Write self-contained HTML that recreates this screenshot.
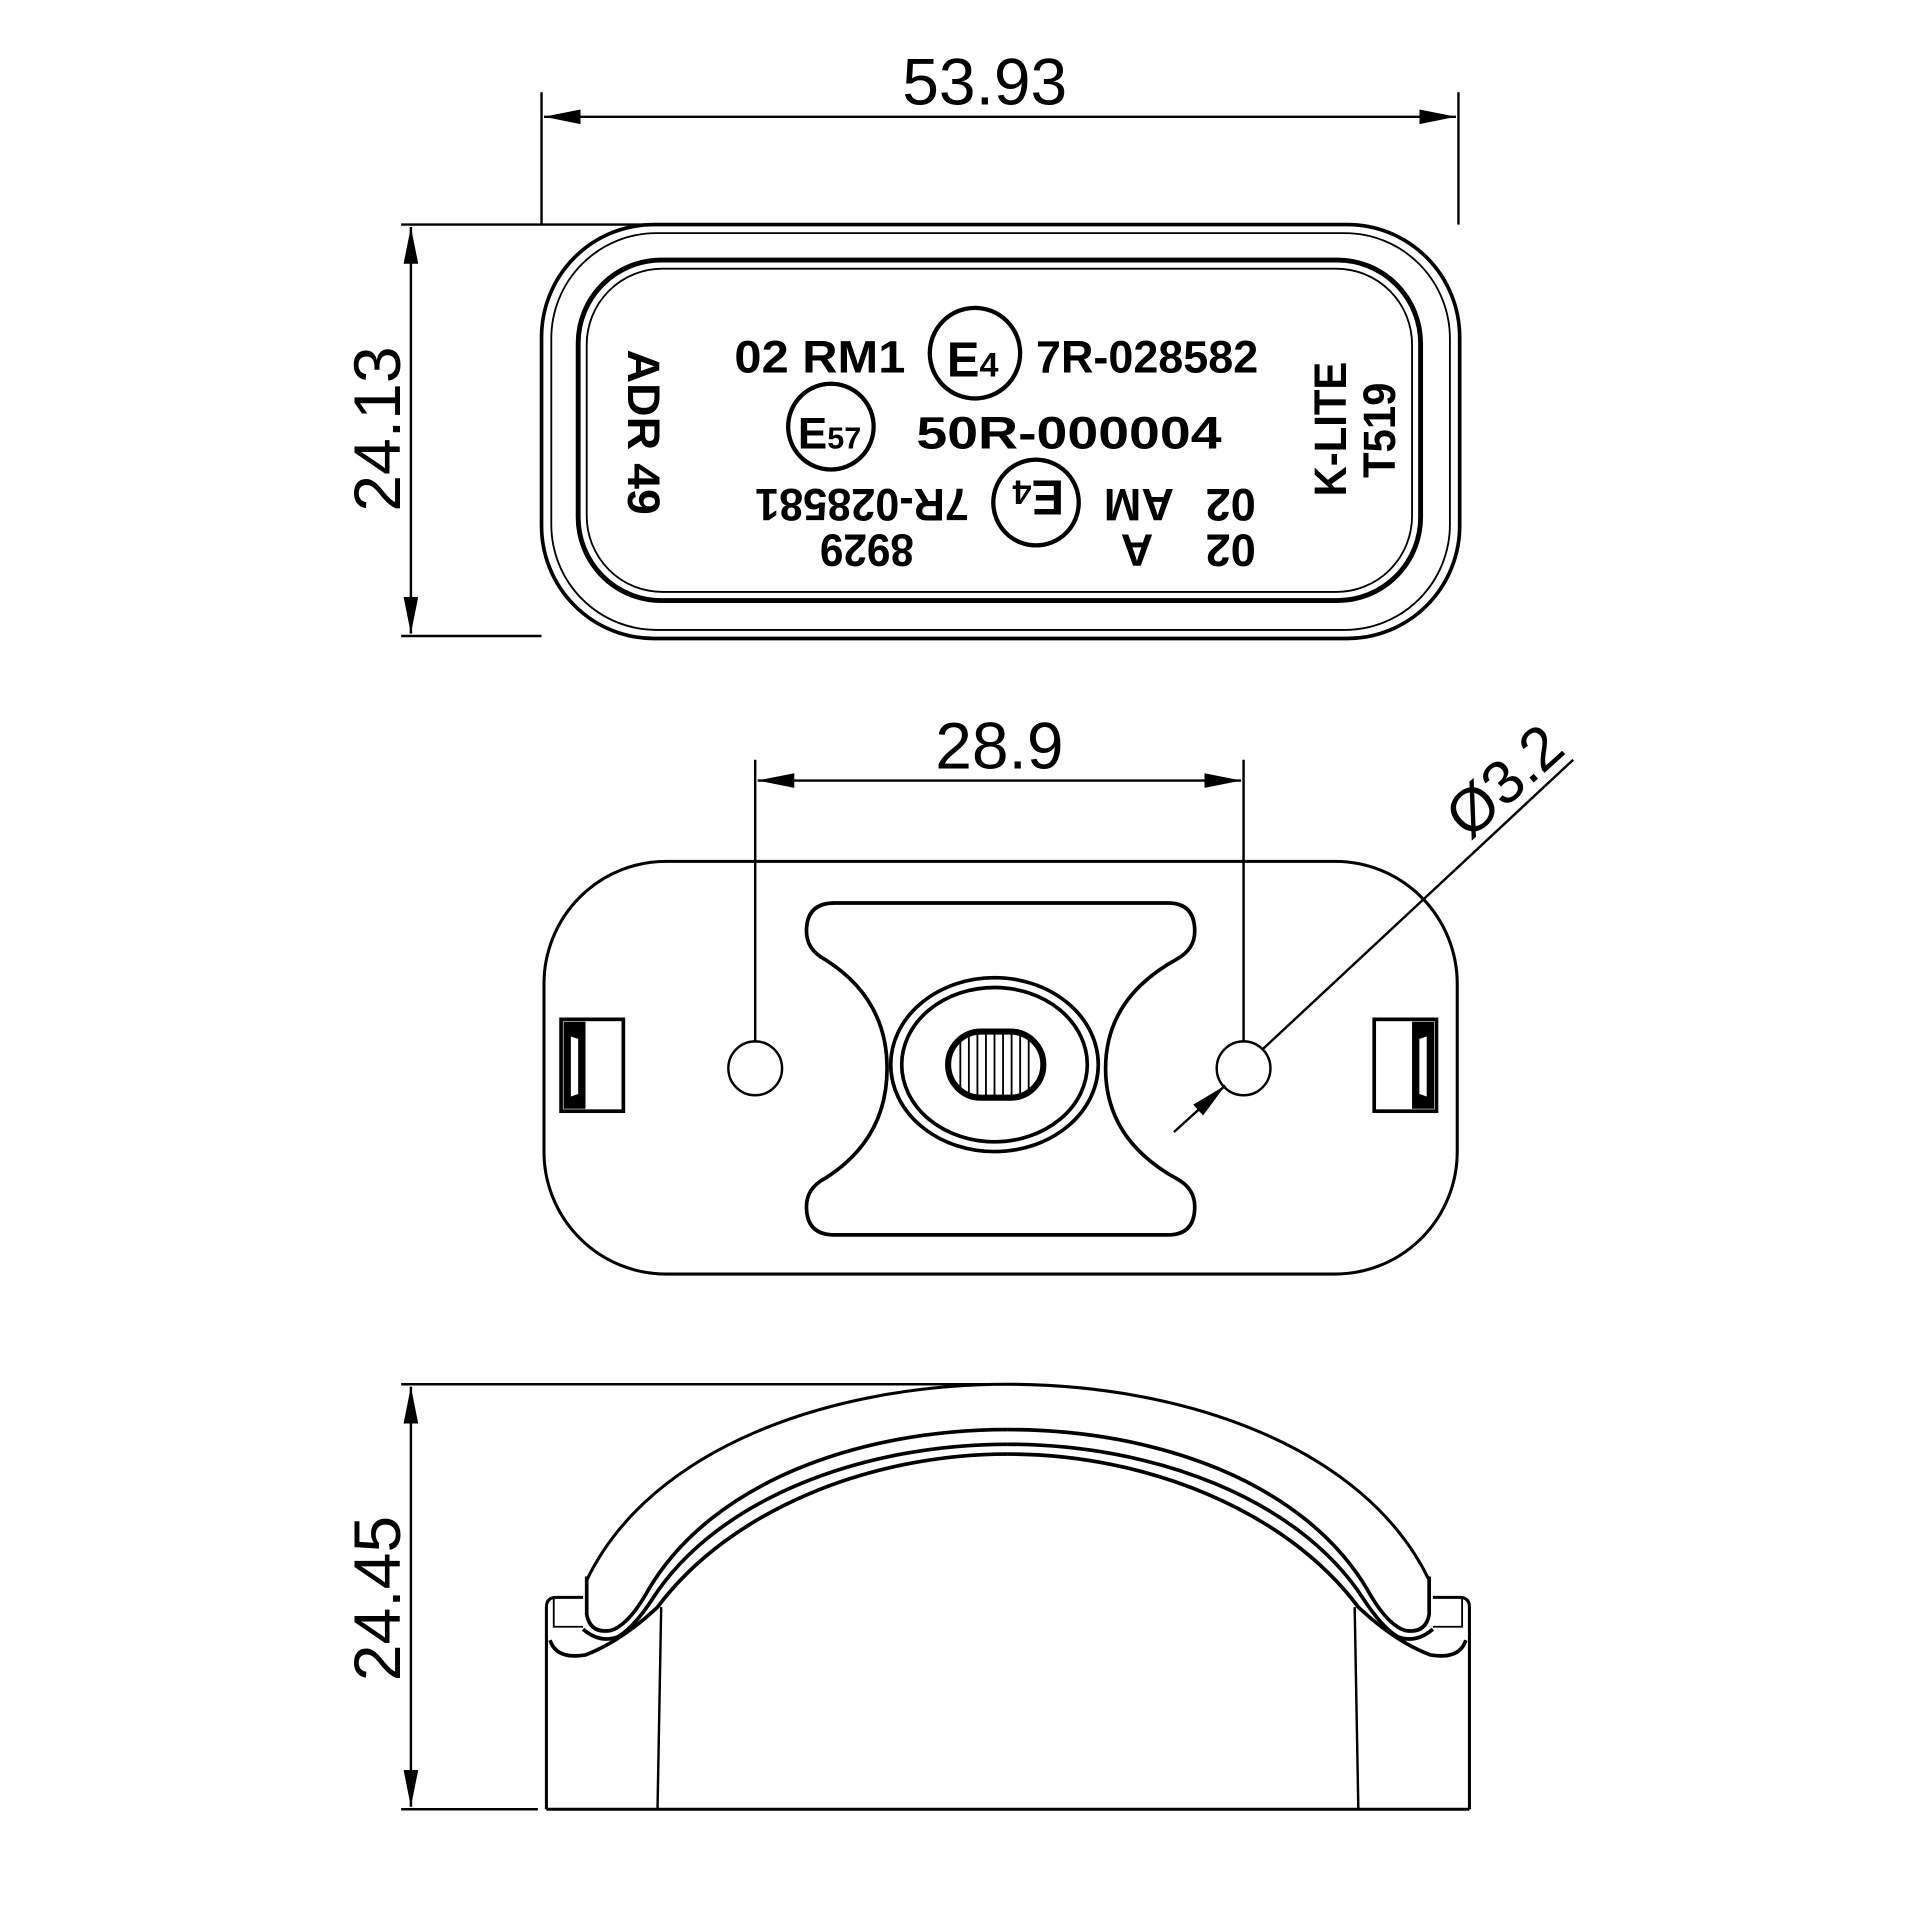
<!DOCTYPE html>
<html><head><meta charset="utf-8"><style>html,body{margin:0;padding:0;background:#fff}svg{display:block}</style></head>
<body>
<svg width="1920" height="1920" viewBox="0 0 1560 1560" xmlns="http://www.w3.org/2000/svg">
<defs>
<marker id="ar" viewBox="0 0 20 8" refX="20" refY="4" markerWidth="30" markerHeight="12" markerUnits="userSpaceOnUse" orient="auto-start-reverse"><path d="M0,0 L20,4 L0,8 Z" fill="#000"/></marker>
<g id="half">
<path d="M477,1290 C530,1180 680,1130 822,1130" stroke-width="2.5"/>
<path d="M477,1287 V1318 Q480,1334 497,1331 Q512,1326 528,1297 C580,1210 700,1167 822,1167" stroke-width="3"/>
<path d="M474,1330 Q488,1342 503,1336 Q516,1328 531,1305 C585,1222 705,1179 822,1179" stroke-width="3"/>
<path d="M447,1339 Q452,1355 476,1351 Q505,1340 535,1312 C595,1232 710,1187 822,1187" stroke-width="3"/>
<path d="M444,1477 V1312 Q444,1304 452,1304 H474" stroke-width="2.5"/>
<path d="M450,1304 V1328 H474" stroke-width="1.5"/>
<line x1="538" y1="1312" x2="535" y2="1477"/>
</g>
</defs>
<g transform="translate(440,75) scale(0.992,0.995) translate(-440,-75)">
<g fill="none" stroke="#000" stroke-width="2">
<line x1="440" y1="75" x2="440" y2="183"/><line x1="1191" y1="75" x2="1191" y2="183"/>
<line x1="442" y1="95" x2="1189" y2="95" marker-start="url(#ar)" marker-end="url(#ar)"/>
<line x1="325" y1="183" x2="530" y2="183"/><line x1="325" y1="519" x2="440" y2="519"/>
<line x1="333" y1="185" x2="333" y2="517" marker-start="url(#ar)" marker-end="url(#ar)"/>
<rect x="440" y="183" width="752" height="338" rx="92" stroke-width="3"/>
<rect x="448" y="190" width="736" height="324" rx="86" stroke-width="1.5"/>
<rect x="470" y="212" width="690" height="278" rx="68" stroke-width="4"/>
<rect x="477" y="219" width="676" height="264" rx="62" stroke-width="1.5"/>
<circle cx="795" cy="288" r="37" stroke-width="3.5"/>
<circle cx="677" cy="348" r="35" stroke-width="3.5"/>
<circle cx="845" cy="410" r="35" stroke-width="3.5"/>
<rect x="442" y="703" width="748" height="337" rx="100" stroke-width="2.5"/>
<line x1="615" y1="620" x2="615" y2="850"/><line x1="1015" y1="620" x2="1015" y2="850"/>
<line x1="617" y1="637" x2="1013" y2="637" marker-start="url(#ar)" marker-end="url(#ar)"/>
<circle cx="615" cy="872" r="22"/><circle cx="1015" cy="872" r="22"/>
<line x1="1285" y1="620" x2="1030" y2="857" />
<line x1="958" y1="924" x2="1000" y2="886" marker-end="url(#ar)"/>
<path d="M680,737 H953 Q975,737 975,760 Q975,775 960,783 Q902,815 902,872 Q902,930 960,962 Q975,970 975,985 Q975,1008 953,1008 H680 Q657,1008 657,985 Q657,970 672,962 Q723,930 723,872 Q723,815 672,783 Q657,775 657,760 Q657,737 680,737 Z" stroke-width="3"/>
<ellipse cx="811" cy="869" rx="85" ry="71" stroke-width="3"/>
<ellipse cx="811" cy="869" rx="76" ry="63" stroke-width="3"/>
<rect x="773" y="842" width="78" height="54" rx="27" stroke-width="5"/>
<g stroke-width="1.5"><line x1="790" y1="846" x2="790" y2="892"/><line x1="797" y1="844" x2="797" y2="894"/><line x1="804" y1="844" x2="804" y2="894"/><line x1="811" y1="844" x2="811" y2="894"/><line x1="818" y1="844" x2="818" y2="894"/><line x1="825" y1="844" x2="825" y2="894"/><line x1="832" y1="844" x2="832" y2="894"/><line x1="839" y1="846" x2="839" y2="892"/><line x1="783" y1="850" x2="783" y2="888"/></g>
<rect x="456" y="832" width="51" height="75" stroke-width="3"/>
<rect x="1122" y="832" width="51" height="75" stroke-width="3"/>
<line x1="325" y1="1130" x2="822" y2="1130"/><line x1="325" y1="1477" x2="437" y2="1477"/>
<line x1="333" y1="1132" x2="333" y2="1475" marker-start="url(#ar)" marker-end="url(#ar)"/>
<line x1="444" y1="1477" x2="1200" y2="1477" stroke-width="2.5"/>
<use href="#half"/>
<use href="#half" transform="translate(1644,0) scale(-1,1)"/>
</g>
<path d="M458,834 H476 V905 H458 Z M464,846 L470,848 V893 L464,895 Z" fill="#000" fill-rule="evenodd"/>
<path d="M1171,834 H1153 V905 H1171 Z M1165,846 L1159,848 V893 L1165,895 Z" fill="#000" fill-rule="evenodd"/>
<g font-family="Liberation Sans, sans-serif" fill="#000">
<text x="803" y="85" font-size="54" text-anchor="middle">53.93</text>
<text x="0" y="0" font-size="54" text-anchor="middle" transform="translate(324,350) rotate(-90)">24.13</text>
<text x="815" y="627" font-size="54" text-anchor="middle">28.9</text>
<text x="0" y="0" font-size="50" text-anchor="middle" transform="translate(1240,650) rotate(-42)">Ø3.2</text>
<text x="0" y="0" font-size="54" text-anchor="middle" transform="translate(324,1305) rotate(-90)">24.45</text>
</g>
<g font-family="Liberation Sans, sans-serif" font-weight="bold" fill="#000" font-size="37">
<text x="598" y="304" textLength="140" lengthAdjust="spacingAndGlyphs">02 RM1</text>
<text x="845" y="304" textLength="182" lengthAdjust="spacingAndGlyphs">7R-028582</text>
<text x="772" y="307" font-size="40">E<tspan font-size="28">4</tspan></text>
<text x="650" y="366" font-size="36">E<tspan font-size="25">57</tspan></text>
<text x="747" y="366" textLength="250" lengthAdjust="spacingAndGlyphs">50R-000004</text>
<g transform="rotate(180 845 410)"><text x="822" y="428" font-size="40">E<tspan font-size="28">4</tspan></text></g>
<text x="0" y="0" textLength="175" lengthAdjust="spacingAndGlyphs" transform="translate(790,399) rotate(180)">7R-028581</text>
<text x="0" y="0" textLength="77" lengthAdjust="spacingAndGlyphs" transform="translate(745,436) rotate(180)">8929</text>
<text x="0" y="0" transform="translate(1025,399) rotate(180)">02</text>
<text x="0" y="0" transform="translate(958,399) rotate(180)">AM</text>
<text x="0" y="0" transform="translate(1025,436) rotate(180)">02</text>
<text x="0" y="0" transform="translate(941,436) rotate(180)">A</text>
<text x="0" y="0" textLength="135" lengthAdjust="spacingAndGlyphs" transform="translate(511,285) rotate(90)">ADR 49</text>
<text x="0" y="0" font-size="37" textLength="110" lengthAdjust="spacingAndGlyphs" transform="translate(1099,405) rotate(-90)">K-LITE</text>
<text x="0" y="0" font-size="37" textLength="78" lengthAdjust="spacingAndGlyphs" transform="translate(1139,390) rotate(-90)">T519</text>
</g>
</g>
</svg>
</body></html>
